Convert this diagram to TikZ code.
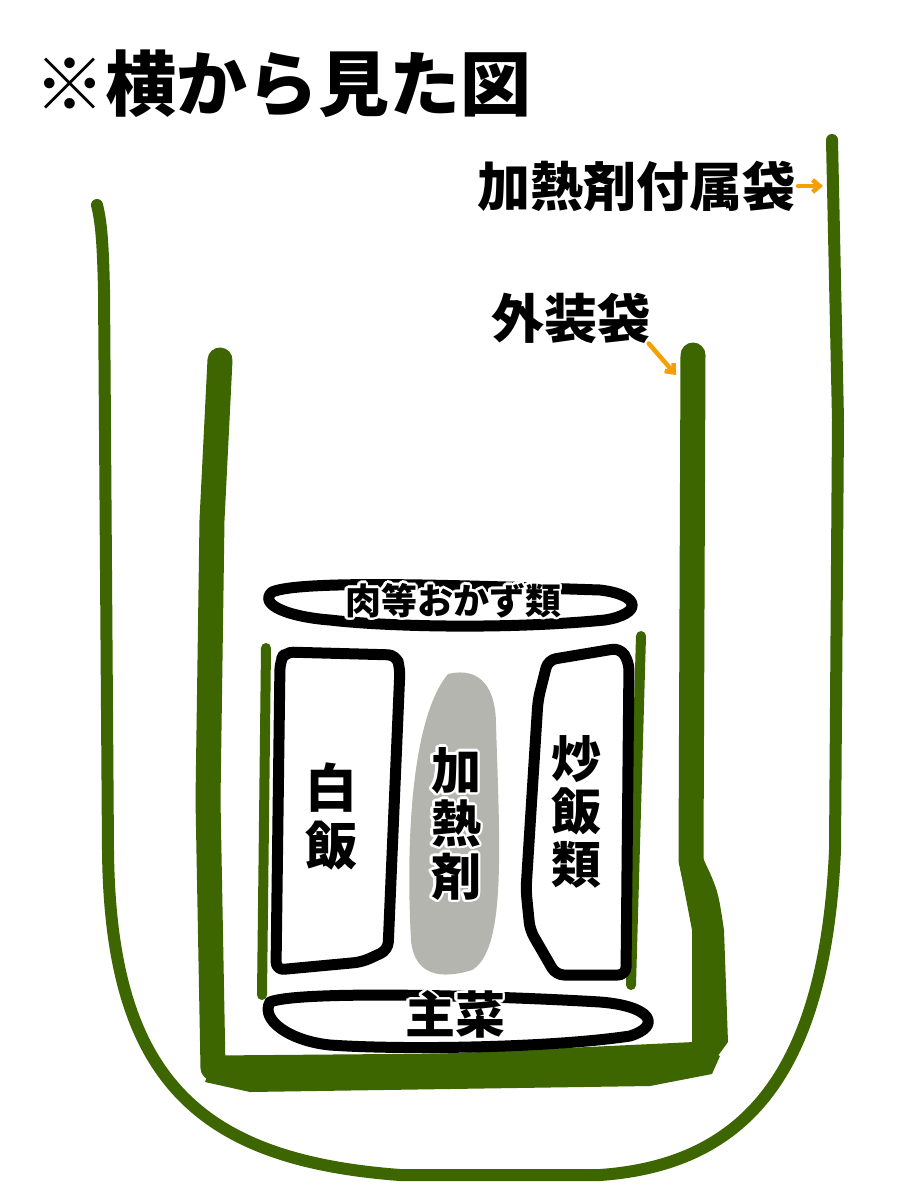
\documentclass[tikz,border=0pt]{standalone}
\usepackage{fontspec}
\usepackage{xcolor}
\usepackage{contour}
\newfontfamily\jp{Noto Sans CJK JP}
\usetikzlibrary{arrows.meta, positioning}
\definecolor{bagGreen}{RGB}{61,102,0}
\definecolor{heatGray}{RGB}{180,181,174}
\definecolor{tagOrange}{RGB}{245,160,0}
\contourlength{2.5pt}
\tikzset{
    x=1pt, y=-1pt, % one unit is one pixel of the sketch
    auxbag/.style={draw=bagGreen, line width=12, line cap=round, line join=round}, % the outer, thin bag
    outerbag/.style={draw=bagGreen, line width=25, line cap=round, line join=round}, % the packing bag
    wall/.style={draw=bagGreen, line width=10, line cap=round}, % thin walls of the tray
    food/.style={draw=black, line width=11, line cap=round, line join=round, fill=white}, % food outlines
    pointer/.style={draw=tagOrange, line width=4.5, line cap=round, -{Straight Barb[length=7,width=12]}}, % orange arrows
    label/.style={font=\jp\bfseries, inner sep=2, text=black}, % all texts
}
\begin{document}
\begin{tikzpicture}
    \useasboundingbox[fill=white] (0,0) rectangle (900,1200);

    % bags
    \draw[auxbag] (97,205) .. controls (102,225) and (103,250) .. (104,290) -- (108,850)
        .. controls (110,1080) and (200,1160) .. (400,1175) -- (600,1175)
        .. controls (740,1165) and (825,1080) .. (835,850)
        -- (838,420) -- (832,140);
    \draw[outerbag] (220,360) -- (212,520) -- (208,800) -- (213,1068)
        -- (450,1066) -- (705,1054) -- (706,930)
        -- (691,860) -- (693,355);
    \fill[bagGreen] (679,862) -- (702,856) .. controls (718,890) .. (724,930) -- (728,1042) -- (712,1064) -- (692,1052) -- (692,930) -- cycle;
    \fill[bagGreen] (213,1060) -- (700,1046) -- (720,1056) -- (712,1074) -- (650,1086) -- (250,1092) -- (205,1082) -- cycle;

    % tray walls
    \draw[wall] (266,648) -- (262,995);
    \draw[wall] (641,636) -- (631,985);

    % food
    \draw[food] (272,592) .. controls (300,580) and (450,585) .. (600,590)
        .. controls (642,595) and (642,614) .. (605,620)
        .. controls (500,630) and (380,626) .. (330,620)
        .. controls (290,617) and (258,605) .. cycle;
    \draw[food, rounded corners=8] (285,652) -- (396,655) -- (400,668) -- (388,950)
        -- (362,962) -- (276,970) -- (280,662) -- cycle;
    \draw[food, rounded corners=8] (548,660) -- (620,648) -- (629,662) -- (626,975)
        -- (556,975) -- (530,930) -- (526,890) -- (538,700) -- cycle;
    \fill[heatGray] (448,674) .. controls (482,666) and (496,690) .. (496,725)
        .. controls (500,850) and (506,950) .. (472,970)
        .. controls (440,980) and (414,975) .. (411,940)
        .. controls (406,850) and (410,720) .. cycle;
    \draw[food] (270,1002) .. controls (300,990) and (500,996) .. (600,1002)
        .. controls (652,1006) and (662,1026) .. (630,1036)
        .. controls (550,1048) and (400,1050) .. (330,1045)
        .. controls (290,1041) and (260,1020) .. cycle;

    % texts
    \node[label, anchor=west, font=\jp\bfseries\fontsize{71}{71}\selectfont] (title) at (32,84) {※横から見た図};
    \node[label, anchor=east, font=\jp\bfseries\fontsize{53}{53}\selectfont] (lblAux) at (798,186) {加熱剤付属袋};
    \node[label, anchor=center, font=\jp\bfseries\fontsize{53}{53}\selectfont] (lblOuter) at (571,318) {外装袋};
    \node[label, font=\jp\bfseries\fontsize{36}{36}\selectfont] (lblSide) at (453,602) {\contour{white}{肉等おかず類}};
    \node[label, align=center, font=\jp\bfseries\fontsize{52}{58}\selectfont] (lblRice) at (331,817) {白\\飯};
    \node[label, align=center, font=\jp\bfseries\fontsize{50}{53}\selectfont] (lblHeat) at (456,825) {\contour{white}{加}\\\contour{white}{熱}\\\contour{white}{剤}};
    \node[label, align=center, font=\jp\bfseries\fontsize{50}{53}\selectfont] (lblFried) at (576,812) {炒\\飯\\類};
    \node[label, font=\jp\bfseries\fontsize{50}{50}\selectfont] (lblMain) at (455,1016) {\contour{white}{主菜}};

    % pointers
    \coordinate (auxTip) at (823,186);
    \coordinate (outerTip) at (676,375);
    \draw[pointer] (lblAux.east) -- (auxTip);
    \draw[pointer] ([xshift=-4,yshift=2]lblOuter.south east) -- (outerTip);
\end{tikzpicture}
\end{document}
